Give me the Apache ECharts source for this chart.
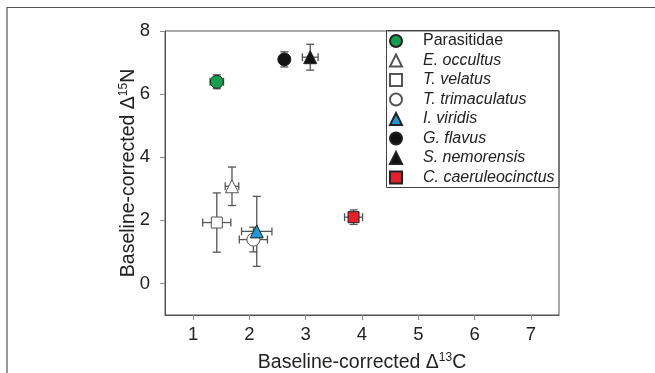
<!DOCTYPE html>
<html>
<head>
<meta charset="utf-8">
<script src="https://cdn.jsdelivr.net/npm/echarts@6/dist/echarts.min.js"></script>
<style>html,body{margin:0;padding:0;background:#fff;}#main{width:655px;height:373px;}</style>
</head>
<body>
<div id="main"></div>
<script>
const species = ['Parasitidae','E. occultus','T. velatus','T. trimaculatus','I. viridis','G. flavus','S. nemorensis','C. caeruleocinctus'];
const xMean = [1.42, 1.69, 1.42, 2.07, 2.13, 2.62, 3.08, 3.85];
const yMean = [6.39, 3.08, 1.93, 1.39, 1.65, 7.10, 7.17, 2.10];
const xErr  = [0.12, 0.12, 0.25, 0.25, 0.27, 0.06, 0.14, 0.16];
const yErr  = [0.22, 0.61, 0.94, 0.39, 1.11, 0.24, 0.41, 0.23];
const xTicks = [1, 2, 3, 4, 5, 6, 7];
const yTicks = [0, 2, 4, 6, 8];

const symbols = ['circle','triangle','rect','circle','triangle','circle','triangle','rect'];
const fills   = ['#12a14a','#ffffff','#ffffff','#ffffff','#1b9ad8','#111111','#111111','#e5202a'];
const sizes   = [13, 13, 11, 13, 13, 13, 13, 11];
const FONT = 'Liberation Sans, Arial, sans-serif';

const chart = echarts.init(document.getElementById('main'), null, {renderer:'canvas'});

const errData = species.map((s,i)=>[xMean[i], yMean[i], xErr[i], yErr[i]]);
const cap = 4;
const errSeries = {
  type: 'custom',
  name: 'err',
  z: 1,
  silent: true,
  data: errData,
  renderItem: function(params, api){
    const x = api.value(0), y = api.value(1), ex = api.value(2), ey = api.value(3);
    const c = api.coord([x,y]);
    const l = api.coord([x-ex,y]), r = api.coord([x+ex,y]);
    const t = api.coord([x,y+ey]), b = api.coord([x,y-ey]);
    const st = {stroke:'#555', lineWidth:1.3, fill:null};
    const line = (x1,y1,x2,y2)=>({type:'line', shape:{x1,y1,x2,y2}, style:st});
    return {type:'group', children:[
      line(l[0],c[1],r[0],c[1]),
      line(l[0],c[1]-cap,l[0],c[1]+cap),
      line(r[0],c[1]-cap,r[0],c[1]+cap),
      line(c[0],t[1],c[0],b[1]),
      line(c[0]-cap,t[1],c[0]+cap,t[1]),
      line(c[0]-cap,b[1],c[0]+cap,b[1])
    ]};
  }
};

const scatterSeries = species.map((s,i)=>({
  type:'scatter',
  name: s,
  z: 3,
  symbol: symbols[i],
  symbolSize: sizes[i],
  itemStyle: {color: fills[i], borderColor: (fills[i]==='#ffffff') ? '#555' : '#222', borderWidth: 1, opacity:1},
  data: [[xMean[i], yMean[i]]]
}));

const nameRich = {
  a:{fontSize:19.5, color:'#222', fontFamily:FONT, lineHeight:22},
  s:{fontSize:12, color:'#222', fontFamily:FONT, verticalAlign:'top', lineHeight:22, padding:[0,0,7,0]}
};

chart.setOption({
  animation: false,
  backgroundColor: '#fff',
  textStyle: {fontFamily: FONT},
  grid: {left:165, top:31, width:394, height:284, show:true, borderColor:'#555', borderWidth:1, containLabel:false, outerBoundsMode:'none'},
  xAxis: {
    type:'value', min:0.5, max:7.5,
    axisLine:{show:true, onZero:false, lineStyle:{color:'#555', width:1}},
    axisTick:{show:true, length:5, lineStyle:{color:'#888'}, customValues: xTicks},
    axisLabel:{color:'#222', fontSize:18.5, margin:10, fontFamily:FONT, customValues: xTicks},
    splitLine:{show:false},
    name:'{a|Baseline-corrected Δ}{s|13}{a|C}',
    nameLocation:'middle', nameGap:37, nameMoveOverlap:false,
    nameTextStyle:{rich:nameRich}
  },
  yAxis: {
    type:'value', min:-1, max:8,
    axisLine:{show:true, onZero:false, lineStyle:{color:'#555', width:1}},
    axisTick:{show:true, length:5, lineStyle:{color:'#888'}, customValues: yTicks},
    axisLabel:{color:'#222', fontSize:18.5, margin:15, fontFamily:FONT, customValues: yTicks},
    splitLine:{show:false},
    name:'{a|Baseline-corrected Δ}{s|15}{a|N}',
    nameLocation:'middle', nameGap:25, nameMoveOverlap:false,
    nameTextStyle:{rich:nameRich}
  },
  legend: {
    orient:'vertical', left:389, top:33, padding:0,
    itemWidth:12, itemHeight:12, itemGap:3.5,
    symbolKeepAspect:true,
    data: species,
    formatter: function(name){ return name==='Parasitidae' ? '{s|}{n|'+name+'}' : '{s|}{i|'+name+'}'; },
    textStyle:{rich:{
      s:{width:16},
      n:{fontSize:16, color:'#222', fontFamily:FONT, lineHeight:16},
      i:{fontSize:16, color:'#222', fontFamily:FONT, fontStyle:'italic', lineHeight:16}
    }}
  },
  graphic: [
    {type:'polyline', silent:true, shape:{points:[[7,373],[7,7.5],[655,7.5]]}, style:{stroke:'#555', lineWidth:1.2, fill:null}},
    {type:'rect', silent:true, z:10, shape:{x:386.5, y:30.5, width:172.5, height:157}, style:{stroke:'#444', lineWidth:1, fill:null}}
  ],
  series: [errSeries].concat(scatterSeries)
});
</script>
</body>
</html>
